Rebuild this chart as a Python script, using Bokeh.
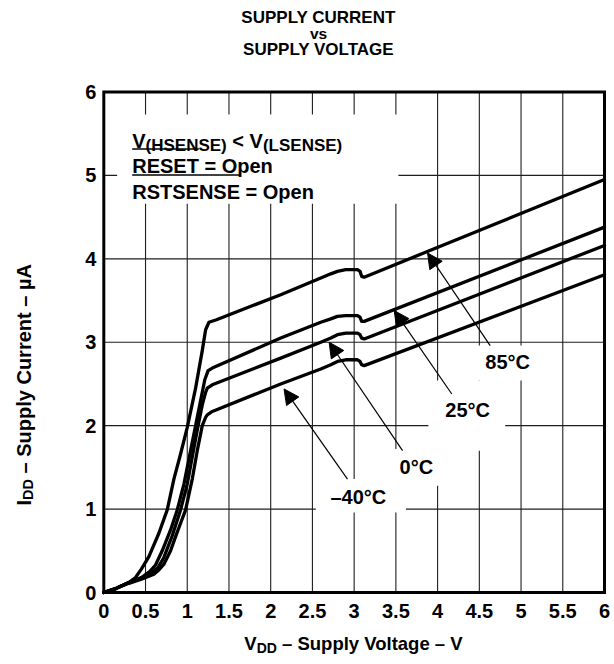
import math
from bokeh.plotting import figure
from bokeh.models import Range1d, Label, Arrow, NormalHead
from bokeh.core.properties import value
from bokeh.embed import file_html
from bokeh.resources import INLINE

# ---------------- data ----------------
v_85 = [0, 0.15, 0.3, 0.38, 0.45, 0.54, 0.66, 0.76, 0.84, 0.92, 1.0, 1.1, 1.18, 1.22, 1.26, 1.35,
        2.12, 2.6, 2.72, 2.8, 2.9, 3.04, 3.07, 3.09, 3.12, 6.0]
i_85 = [0, 0.05, 0.12, 0.18, 0.28, 0.43, 0.71, 0.99, 1.36, 1.66, 1.98, 2.45, 2.9, 3.15, 3.24, 3.27,
        3.57, 3.77, 3.82, 3.85, 3.87, 3.87, 3.85, 3.79, 3.78, 4.95]

v_25 = [0, 0.15, 0.3, 0.45, 0.55, 0.62, 0.7, 0.8, 0.88, 0.96, 1.04, 1.1, 1.16, 1.21, 1.25, 1.3,
        2.12, 2.6, 2.72, 2.8, 2.9, 3.04, 3.07, 3.09, 3.12, 6.0]
i_25 = [0, 0.05, 0.12, 0.18, 0.25, 0.33, 0.5, 0.75, 0.99, 1.3, 1.7, 2.0, 2.3, 2.55, 2.66, 2.69,
        3.05, 3.24, 3.28, 3.31, 3.32, 3.32, 3.30, 3.25, 3.25, 4.38]

v_0 = [0, 0.15, 0.3, 0.45, 0.58, 0.65, 0.72, 0.82, 0.92, 1.0, 1.07, 1.13, 1.18, 1.22, 1.24, 1.3,
       2.12, 2.6, 2.72, 2.8, 2.9, 3.04, 3.07, 3.09, 3.12, 6.0]
i_0 = [0, 0.05, 0.12, 0.17, 0.24, 0.3, 0.42, 0.68, 0.99, 1.3, 1.68, 2.0, 2.25, 2.4, 2.45, 2.49,
       2.81, 3.0, 3.05, 3.09, 3.11, 3.11, 3.09, 3.05, 3.04, 4.16]

v_m40 = [0, 0.15, 0.3, 0.45, 0.6, 0.66, 0.72, 0.8, 0.86, 0.92, 0.98, 1.06, 1.12, 1.18, 1.22, 1.24, 1.3,
         2.12, 2.6, 2.72, 2.8, 2.9, 3.04, 3.07, 3.09, 3.12, 6.0]
i_m40 = [0, 0.05, 0.11, 0.16, 0.22, 0.27, 0.34, 0.5, 0.67, 0.83, 0.99, 1.36, 1.7, 2.0, 2.1, 2.13, 2.17,
         2.50, 2.68, 2.73, 2.77, 2.79, 2.79, 2.77, 2.73, 2.72, 3.81]

x_ticks = [0, 0.5, 1, 1.5, 2, 2.5, 3, 3.5, 4, 4.5, 5, 5.5, 6]
x_tick_labels = ["0", "0.5", "1", "1.5", "2", "2.5", "3", "3.5", "4", "4.5", "5", "5.5", "6"]
y_ticks = [0, 1, 2, 3, 4, 5, 6]
y_tick_labels = ["0", "1", "2", "3", "4", "5", "6"]

temp_labels = ["85°C", "25°C", "0°C", "–40°C"]
temp_label_x = [4.84, 4.36, 3.745, 3.05]
temp_label_y = [2.765, 2.187, 1.509, 1.149]
arrow_tail_x = [4.63, 4.17, 3.58, 2.92]
arrow_tail_y = [2.96, 2.38, 1.70, 1.36]
arrow_head_x = [3.88, 3.48, 2.70, 2.16]
arrow_head_y = [4.07, 3.38, 3.00, 2.44]

# white boxes behind the annotation texts (left, right, bottom, top)
box_left = [0.16, 4.45, 3.89, 3.41, 2.54]
box_right = [3.53, 5.17, 4.81, 4.12, 3.62]
box_bottom = [4.66, 2.54, 1.70, 1.28, 0.96]
box_top = [5.73, 2.96, 2.54, 1.72, 1.36]

# ---------------- layout constants ----------------
FONT = "Liberation Sans"
W_PX, H_PX = 612, 662
X0_PX, X6_PX = 103.3, 604.0      # page pixels of x = 0 and x = 6
Y0_PX, Y6_PX = 592.0, 91.5       # page pixels of y = 0 and y = 6
SX = (X6_PX - X0_PX) / 6.0
SY = (Y0_PX - Y6_PX) / 6.0
XS = -X0_PX / SX
XE = XS + W_PX / SX
YE = 6 + Y6_PX / SY
YS = YE - H_PX / SY

W = {' ': 278, '(': 333, ')': 333, '<': 584, '=': 584, 'A': 722, 'C': 722, 'D': 722, 'E': 667,
     'H': 722, 'I': 278, 'L': 611, 'N': 722, 'O': 778, 'R': 722, 'S': 667, 'T': 611, 'V': 667,
     'p': 611, 'e': 556, 'n': 611, '–': 556, 'u': 611, 'l': 278, 'y': 556, 'o': 611, 't': 333,
     'a': 556, 'g': 611, 'r': 389, 'µ': 611}


def tw(s, size):
    return sum(W.get(c, 556) for c in s) * size / 1000.0


def rx(px):
    return XS + px / SX


def ry(py):
    return YE - py / SY


p = figure(width=W_PX, height=H_PX, x_range=Range1d(XS, XE), y_range=Range1d(YS, YE),
           min_border=0, x_axis_type=None, y_axis_type=None,
           output_backend="svg", toolbar_location=None)
p.outline_line_color = None
p.background_fill_color = "white"
p.border_fill_color = "white"

xmin, xmax = x_ticks[0], x_ticks[-1]
ymin, ymax = y_ticks[0], y_ticks[-1]

# grid lines
gx = x_ticks[1:-1]
p.segment(x0=gx, y0=[ymin] * len(gx), x1=gx, y1=[ymax] * len(gx), line_color="#1e1e1e", line_width=1.1)
gy = y_ticks[1:-1]
p.segment(x0=[xmin] * len(gy), y0=gy, x1=[xmax] * len(gy), y1=gy, line_color="#1e1e1e", line_width=1.1)

# white boxes occluding grid lines behind texts
p.quad(left=box_left, right=box_right, bottom=box_bottom, top=box_top,
       fill_color="white", line_color=None)

# curves
for vx, iy in ((v_85, i_85), (v_25, i_25), (v_0, i_0), (v_m40, i_m40)):
    p.line(vx, iy, line_color="black", line_width=3.3, line_join="round", line_cap="round")

# plot frame
p.quad(left=[xmin], right=[xmax], bottom=[ymin], top=[ymax], fill_color=None,
       line_color="black", line_width=3, line_join="miter")

# tick labels
p.text(x=x_ticks, y=[ymin - 18.0 / SY] * len(x_ticks), text=x_tick_labels,
       text_font=value(FONT), text_font_style="bold", text_font_size="20px",
       text_align="center", text_baseline="middle", text_color="black")
p.text(x=[xmin - 7.5 / SX] * len(y_ticks), y=y_ticks, text=y_tick_labels,
       text_font=value(FONT), text_font_style="bold", text_font_size="20px",
       text_align="right", text_baseline="middle", text_color="black")

# arrows
for tx, ty, hx, hy in zip(arrow_tail_x, arrow_tail_y, arrow_head_x, arrow_head_y):
    p.add_layout(Arrow(end=NormalHead(size=15, fill_color="black", line_color="black", line_width=1),
                       x_start=tx, y_start=ty, x_end=hx, y_end=hy,
                       line_color="black", line_width=1.2))


def txt(x, y, text, size, dx=0.0, dy=0.0, angle=0.0, align="left", baseline="alphabetic", style="bold"):
    p.add_layout(Label(x=x, y=y, x_offset=dx, y_offset=dy, text=text, angle=angle,
                       text_font=FONT, text_font_size=f"{size}px", text_font_style=style,
                       text_align=align, text_baseline=baseline, text_color="black"))


# temperature labels
for t, lx, ly in zip(temp_labels, temp_label_x, temp_label_y):
    txt(lx, ly, t, 20, align="center", baseline="middle")

# condition text
cx = rx(131.7)
y1 = ry(140)
txt(cx, y1, "V", 20)
txt(cx, y1, "(HSENSE)", 17, dx=tw("V", 20), dy=-5)
off = tw("V", 20) + tw("(HSENSE)", 17) + tw(" ", 20)
txt(cx, y1, "< V", 20, dx=off)
off += tw("< V", 20)
txt(cx, y1, "(LSENSE)", 17, dx=off, dy=-5)

txt(cx, ry(165), "RESET = Open", 20)
txt(cx, ry(191), "RSTSENSE = Open", 20)
ol_y = [ry(148.5), ry(174.5)]
ol_x1 = [cx + tw("RESET", 20) / SX, cx + tw("RSTSENSE", 20) / SX]
p.segment(x0=[cx, cx], y0=ol_y, x1=ol_x1, y1=ol_y, line_color="black", line_width=1.6)

# title
tcx = rx(318)
txt(tcx, ry(17), "SUPPLY CURRENT", 17, align="center", baseline="middle")
txt(tcx, ry(32.5), "vs", 15.5, align="center", baseline="middle")
txt(tcx, ry(48.5), "SUPPLY VOLTAGE", 17, align="center", baseline="middle")

# x axis label  V_DD – Supply Voltage – V  (centred under the frame)
XL = 18.5
XLS = 14
xl_parts_w = tw("V", XL) + tw("DD", XLS) + tw(" – Supply Voltage – V", XL)
xl_x = (xmin + xmax) / 2.0
xl_y = ry(643)
x_start_off = -xl_parts_w / 2.0
txt(xl_x, xl_y, "V", XL, dx=x_start_off)
txt(xl_x, xl_y, "DD", XLS, dx=x_start_off + tw("V", XL), dy=-4)
txt(xl_x, xl_y, "– Supply Voltage – V", XL,
    dx=x_start_off + tw("V", XL) + tw("DD", XLS) + tw(" ", XL))

# y axis label  I_DD – Supply Current – µA (rotated)
YL = 20
YLS = 14.5
yl_x = rx(23.5)
yl_y = ry(505)
ang = math.pi / 2
txt(yl_x, yl_y, "I", YL, angle=ang)
txt(yl_x, yl_y, "DD", YLS, angle=ang, dy=tw("I", YL), dx=4)
txt(yl_x, yl_y, "– Supply Current – µA", YL, angle=ang,
    dy=tw("I", YL) + tw("DD", YLS) + tw(" ", YL))

open("out.html", "w").write(file_html(p, INLINE))
